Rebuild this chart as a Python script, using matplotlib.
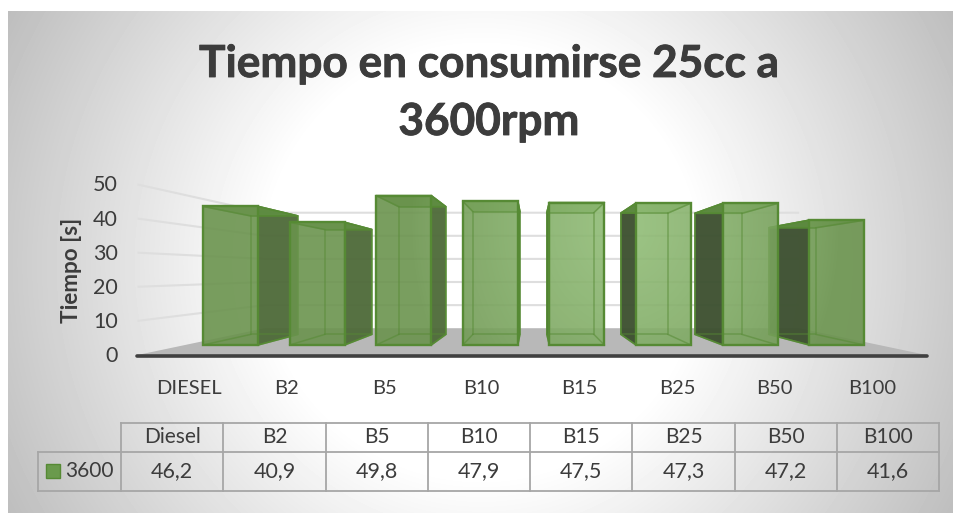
import numpy as np
import matplotlib
matplotlib.use("Agg")
import matplotlib.pyplot as plt
import matplotlib.patheffects as pe
from matplotlib.patches import Polygon, Rectangle

plt.rcParams['font.family'] = ['Lato', 'DejaVu Sans']

axis_labels = ["DIESEL", "B2", "B5", "B10", "B15", "B25", "B50", "B100"]
table_labels = ["Diesel", "B2", "B5", "B10", "B15", "B25", "B50", "B100"]
series_name = "3600"
times = [46.2, 40.9, 49.8, 47.9, 47.5, 47.3, 47.2, 41.6]
table_text = ["46,2", "40,9", "49,8", "47,9", "47,5", "47,3", "47,2", "41,6"]
y_ticks = [0, 10, 20, 30, 40, 50]

W, H = 954, 513
fig = plt.figure(figsize=(W / 100, H / 100), dpi=100)
ax = fig.add_axes([0, 0, 1, 1])
ax.set_xlim(0, W)
ax.set_ylim(H, 0)
ax.axis("off")

# Chart area: white centre fading to grey towards the corners
x0, x1, y0, y1 = 8, 954, 11, 513
px, py = np.meshgrid(np.arange(x0, x1), np.arange(y0, y1))
dist = np.hypot(px - 481.0, py - 262.0)
shade = 255 - 0.204 * np.clip(dist - 215, 0, None)
ax.imshow(shade, cmap="gray", vmin=0, vmax=255, extent=(x0, x1, y1, y0),
          aspect="auto", zorder=0, interpolation="bilinear")
ax.set_xlim(0, W)
ax.set_ylim(H, 0)

# Perspective projection of the plot box
VX, VY = 532.0, 272.0
BASE, UNIT = 345.0, 3.0
S_FLOOR_FRONT, S_WALL, S_BAR_BACK = 1.137, 0.77, 0.855
WALL_L, WALL_R = 185.0, 879.0
BAR_X0, BAR_STEP, BAR_W = 203.0, 86.6, 55.0


def project(x, value, depth):
    return (VX + (x - VX) * depth,
            VY + (BASE - UNIT * value - VY) * depth)


# Floor
floor = [project(WALL_L, 0, S_FLOOR_FRONT), project(WALL_R, 0, S_FLOOR_FRONT),
         project(WALL_R, 0, S_WALL), project(WALL_L, 0, S_WALL)]
ax.add_patch(Polygon(floor, closed=True, fc="#b8b8b8", ec="none", zorder=1))

# Gridlines on the side and back walls
for v in y_ticks[1:]:
    pts = [project(WALL_L, v, S_FLOOR_FRONT), project(WALL_L, v, S_WALL),
           project(WALL_R, v, S_WALL)]
    ax.plot(*zip(*pts), color="#dedede", lw=1.5, zorder=1.5, solid_capstyle="butt")

# Axis base line
a, b = project(WALL_L, 0, S_FLOOR_FRONT), project(WALL_R, 0, S_FLOOR_FRONT)
ax.plot([a[0], b[0]], [a[1] + 0.5, b[1] + 0.5], color="#404040", lw=2.6,
        zorder=1.6, solid_capstyle="round")

EDGE = "#568a34"
DARK_R = "#4f6b3a"
DARK_L = "#3d5030"

# Front-face colour field, brightest around the middle of the bar row
fx, fy = np.meshgrid(np.arange(W), np.arange(H))
glow = np.clip(1 - np.hypot((fx - 625.0) / 215.0, (fy - 225.0) / 260.0), 0, 1) ** 0.8
light = np.array([146, 190, 120], float)
base = np.array([106, 147, 77], float)
front_rgb = base + (light - base) * glow[..., None]
front_rgba = np.dstack([front_rgb / 255.0, np.full((H, W), 0.9)])


def draw_bar(i, value, z):
    left = BAR_X0 + BAR_STEP * i
    right = left + BAR_W
    back = [project(left, 0, S_BAR_BACK), project(right, 0, S_BAR_BACK),
            project(right, value, S_BAR_BACK), project(left, value, S_BAR_BACK)]
    front = [project(left, 0, 1), project(right, 0, 1),
             project(right, value, 1), project(left, value, 1)]
    # Outer side face: right of the bars left of centre, left of the others
    centre = (left + right) / 2
    sx = right if centre < VX else left
    side = [project(sx, 0, 1), project(sx, value, 1),
            project(sx, value, S_BAR_BACK), project(sx, 0, S_BAR_BACK)]
    fc = DARK_R if sx == right else DARK_L
    ax.add_patch(Polygon(side, closed=True, fc=fc, alpha=0.96, ec=EDGE,
                         lw=1.2, zorder=z))

    # Top face
    top = [front[3], front[2], back[2], back[3]]
    ax.add_patch(Polygon(top, closed=True, fc="#5f8f41", alpha=0.9, ec=EDGE, lw=1.2,
                         zorder=z + 0.01))

    # Translucent front face with its colour field
    img = ax.imshow(front_rgba, extent=(0, W, H, 0), aspect="auto", zorder=z + 0.02,
                    interpolation="nearest")
    poly = Polygon(front, closed=True, transform=ax.transData, fc="none", ec="none")
    ax.add_patch(poly)
    img.set_clip_path(poly)

    # Inner edges seen through the front
    xs, ys = zip(*(back + back[:1]))
    ax.plot(xs, ys, color=EDGE, lw=1.1, alpha=0.55, zorder=z + 0.03)
    for p, q in zip(front, back):
        ax.plot([p[0], q[0]], [p[1], q[1]], color=EDGE, lw=1.1, alpha=0.55, zorder=z + 0.03)
    ax.add_patch(Polygon(front, closed=True, fc="none", ec=EDGE, lw=1.7,
                         joinstyle="miter", zorder=z + 0.04))


# Outer bars first so that those nearer the centre sit on top
for order, i in enumerate([0, 7, 1, 6, 2, 5, 3, 4]):
    draw_bar(i, times[i], 2 + order * 0.1)
ax.set_xlim(0, W)
ax.set_ylim(H, 0)

TEXT = "#3c3c3c"
heavy = [pe.withStroke(linewidth=0.6, foreground=TEXT)]
ax.text(489, 64, "Tiempo en consumirse 25cc a", ha="center", va="center",
        fontsize=31.8, fontweight="bold", color=TEXT, zorder=6, path_effects=heavy)
ax.text(489, 122, "3600rpm", ha="center", va="center",
        fontsize=31.8, fontweight="bold", color=TEXT, zorder=6, path_effects=heavy)

# Value axis
for v in y_ticks:
    _, yy = project(WALL_L, v, S_FLOOR_FRONT)
    ax.text(118, yy + 1, str(v), ha="right", va="center", fontsize=15.5, color=TEXT, zorder=6)
ax.text(72, 270, "Tiempo [s]", rotation=90, ha="center", va="center",
        fontsize=16.2, fontweight="bold", color=TEXT, zorder=6)

# Category labels
for i, lab in enumerate(axis_labels):
    ax.text(189 + 97.6 * i, 388, lab, ha="center", va="center", fontsize=14.5,
            color=TEXT, zorder=6)

# Data table
T_LEFT, T_X0, T_STEP = 38.0, 121.0, 102.3
T_Y0, T_Y1, T_Y2 = 423.0, 452.0, 491.0
LINE = "#a6a6a6"
n = len(table_labels)
for k in range(n + 1):
    ax.plot([T_X0 + k * T_STEP] * 2, [T_Y0, T_Y2], color=LINE, lw=1.3, zorder=5)
ax.plot([T_X0, T_X0 + n * T_STEP], [T_Y0, T_Y0], color=LINE, lw=1.3, zorder=5)
ax.plot([T_LEFT, T_X0 + n * T_STEP], [T_Y1, T_Y1], color=LINE, lw=1.3, zorder=5)
ax.plot([T_LEFT, T_X0 + n * T_STEP], [T_Y2, T_Y2], color=LINE, lw=1.3, zorder=5)
ax.plot([T_LEFT, T_LEFT], [T_Y1, T_Y2], color=LINE, lw=1.3, zorder=5)
for k in range(n):
    cx = T_X0 + (k + 0.5) * T_STEP
    ax.text(cx, 437, table_labels[k], ha="center", va="center", fontsize=15,
            color=TEXT, zorder=6)
    ax.text(cx, 471, table_text[k], ha="center", va="center", fontsize=15.5,
            color=TEXT, zorder=6)
ax.add_patch(Rectangle((46, 464), 14, 14, fc="#6a9a4c", ec=EDGE, lw=1, zorder=6))
ax.text(65, 471, series_name, ha="left", va="center", fontsize=15, color=TEXT, zorder=6)

fig.savefig("out.png", dpi=100)
